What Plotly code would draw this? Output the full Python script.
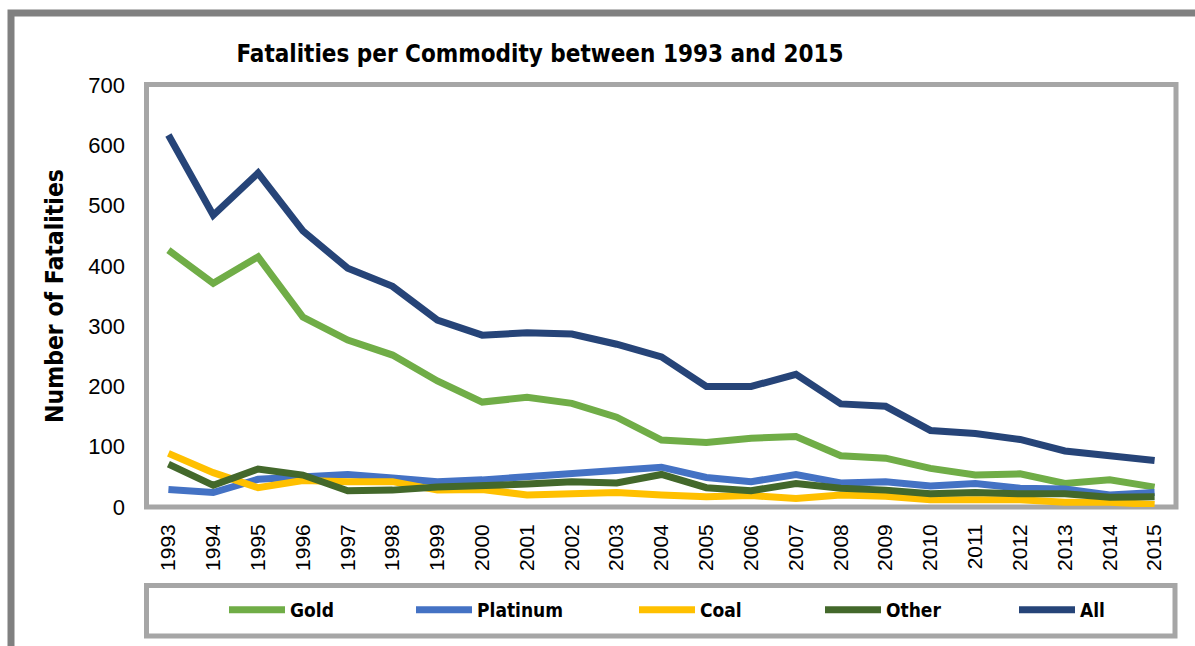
import plotly.graph_objects as go

years = [str(y) for y in range(1993, 2016)]
gold = [426, 371, 415, 315, 277, 252, 209, 174, 182, 172, 149, 111, 107, 114, 117, 85, 81, 64, 53, 55, 39, 45, 33]
platinum = [29, 24, 46, 49, 54, 48, 42, 45, 50, 54, 60, 66, 49, 42, 54, 40, 42, 35, 39, 31, 30, 20, 24]
coal = [89, 57, 32, 44, 42, 42, 28, 29, 20, 21, 24, 20, 17, 19, 14, 20, 18, 12, 13, 12, 8, 8, 4]
other = [71, 36, 63, 53, 27, 28, 33, 35, 38, 42, 40, 54, 32, 27, 39, 31, 28, 22, 24, 22, 22, 16, 17]
all_ = [617, 484, 554, 458, 396, 366, 310, 285, 289, 287, 270, 249, 200, 200, 220, 171, 167, 127, 122, 112, 93, 85, 77]

series_names = ["Gold", "Platinum", "Coal", "Other", "All"]
series_values = [gold, platinum, coal, other, all_]
series_colors = ["#70AD47", "#4472C4", "#FFC000", "#43682B", "#264478"]
legend_x_px = [229, 416, 639, 825, 1019]   # left end of each legend swatch
y_ticks = [0, 100, 200, 300, 400, 500, 600, 700]

COND = "DejaVu Sans Condensed, Liberation Sans Narrow, Arial Narrow, sans-serif"
REG = "Liberation Sans, Arial, sans-serif"

W, H = 1195, 646
L, R, T, B = 146, 18, 85, 139
pw = W - L - R
ph = H - T - B


def px(xp):
    return (xp - L) / pw


def py(yp):
    return (H - B - yp) / ph


fig = go.Figure()
legend_layouts = {}
for i, (name, vals, col) in enumerate(zip(series_names, series_values, series_colors)):
    lid = "legend" if i == 0 else f"legend{i + 1}"
    fig.add_trace(go.Scatter(
        x=years, y=vals, name=name, mode="lines",
        line=dict(color=col, width=7),
        legend=lid,
    ))
    legend_layouts[lid] = dict(
        orientation="h",
        xref="container", yref="container",
        x=(legend_x_px[i] - 5) / W, xanchor="left",
        y=1 - 610 / H, yanchor="middle",
        itemwidth=56,
        font=dict(family=COND, size=19, color="black", weight="bold"),
        bgcolor="rgba(0,0,0,0)", borderwidth=0,
    )

fig.update_layout(
    width=W, height=H,
    margin=dict(l=L, r=R, t=T, b=B, autoexpand=False),
    paper_bgcolor="white", plot_bgcolor="white",
    title=dict(
        text="Fatalities per Commodity between 1993 and 2015",
        font=dict(family=COND, size=24, color="black", weight="bold"),
        x=540 / W, xref="container", xanchor="center",
        y=1 - 54 / H, yref="container", yanchor="middle",
    ),
    xaxis=dict(
        type="category", range=[-0.5, 22.5], automargin=False,
        showgrid=False, zeroline=False, showline=False,
        tickangle=-90, ticks="", ticklabelstandoff=12,
        tickfont=dict(family=REG, size=21, color="black"),
    ),
    yaxis=dict(
        range=[0, 700], tickvals=y_ticks, automargin=False,
        showgrid=False, zeroline=False, showline=False,
        ticks="", ticklabelstandoff=20,
        tickfont=dict(family=REG, size=22, color="black"),
        title=dict(text="Number of Fatalities",
                   font=dict(family=COND, size=24.5, color="black", weight="bold"),
                   standoff=17),
    ),
    showlegend=True,
    shapes=[
        dict(type="rect", xref="paper", yref="paper", x0=px(11), x1=px(1215), y0=py(670), y1=py(13),
             line=dict(color="#808080", width=7), fillcolor="rgba(0,0,0,0)", layer="below"),
        dict(type="rect", xref="paper", yref="paper", x0=px(146.5), x1=px(1176), y0=py(507), y1=py(84.5),
             line=dict(color="#A6A6A6", width=5), fillcolor="rgba(0,0,0,0)", layer="below"),
        dict(type="rect", xref="paper", yref="paper", x0=px(146.5), x1=px(1175), y0=py(636), y1=py(585.5),
             line=dict(color="#A6A6A6", width=5), fillcolor="rgba(0,0,0,0)", layer="below"),
    ],
    **legend_layouts,
)

fig.write_html(
    "out.html",
    config={"displayModeBar": False},
    post_script="document.body.style.margin='0';document.body.style.overflow='hidden';",
)
